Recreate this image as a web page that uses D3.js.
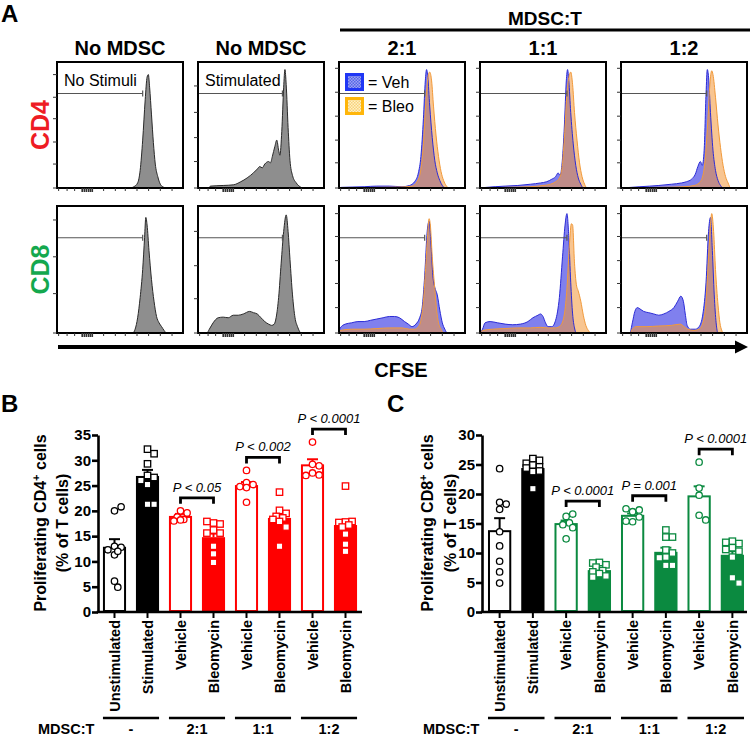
<!DOCTYPE html>
<html><head><meta charset="utf-8">
<script src="https://cdn.jsdelivr.net/npm/d3@7/dist/d3.min.js"></script>
<style>
body{margin:0;background:#fff}
svg{display:block;font-family:"Liberation Sans",Arial,Helvetica,sans-serif}
</style>
</head><body>
<svg id="fig" width="750" height="736"></svg>
<script>
// ---------------- DATA ----------------
// Panel A column headers
const colHeaders = ["No MDSC", "No MDSC", "2:1", "1:1", "1:2"];
const rowLabels = ["CD4", "CD8"];
const boxTexts = ["No Stimuli", "Stimulated"];
const legendLabels = ["= Veh", "= Bleo"];

// Histograms: [x % of CFSE axis, height % of box]
const cd4_noStim = [[0,0],[58,0],[61,1],[64,4],[66,14],[68,38],[70,70],[71.5,88],[72.5,90],[73.5,80],[75,58],[76.5,36],[78,19],[80,9],[82,3],[84,1],[86,0],[100,0]];
const cd4_stim = [[0,0],[8,0],[10,1.5],[20,2],[28,2.5],[34,5],[39,8],[44,12],[47,15],[49,17],[51,16],[53,19],[56,21],[57.5,20],[59,25],[61,33],[62.5,38],[64,30],[65,26],[66.5,45],[68,80],[69,94],[70,82],[71.5,48],[73,22],[75,10],[78,4],[81,1],[83,0],[100,0]];
const cd4_21_veh = [[0,0],[2,0.5],[20,1],[30,1.5],[40,1.5],[50,1],[56,2],[60,5],[63,12],[65,25],[67,55],[68.5,85],[69.5,94],[70.5,88],[72,65],[74,40],[76,22],[78,12],[80,6],[82,2],[84,0],[100,0]];
const cd4_21_bleo = [[0,0],[30,0.5],[50,0.8],[58,1.5],[62,5],[65,15],[67,35],[69,70],[71,90],[72,92],[73.5,85],[75,65],[77,42],[79,25],[81,13],[83,6],[85,2],[87,0],[100,0]];
const cd4_11_veh = [[0,0],[5,0.5],[20,1.5],[30,2],[40,3],[48,4],[53,5],[57,7],[60,9],[62,12],[63.5,10],[65,18],[67,50],[68.5,85],[69.5,94],[70.5,85],[72,60],[74,35],[76,18],[78,8],[80,3],[82,0],[100,0]];
const cd4_11_bleo = [[0,0],[20,0.5],[40,1],[50,2],[56,3],[60,5],[63,8],[65,15],[67,40],[69,75],[71,90],[72,92],[73.5,82],[75,60],[77,38],[79,20],[81,9],[83,3],[85,0],[100,0]];
const cd4_12_veh = [[0,0],[8,0.5],[15,1],[30,2],[40,3],[48,4],[52,5],[56,7],[59,11],[61,17],[63,21],[64.5,18],[66,30],[67.5,75],[68.5,94],[69.5,88],[71,60],[73,30],[75,14],[77,6],[79,2],[81,0],[100,0]];
const cd4_12_bleo = [[0,0],[30,0.5],[50,1],[58,2],[62,4],[65,10],[67,25],[69,55],[70.5,82],[72,93],[73,90],[75,72],[77,50],[79,32],[81,18],[83,9],[85,4],[87,0],[100,0]];

const cd8_noStim = [[0,0],[60,0],[62,3],[64,12],[66,28],[68,50],[69.5,75],[70.5,91],[71.5,85],[73,65],[75,42],[77,25],[79,13],[81,8],[83,5],[85,2],[87,0],[100,0]];
const cd8_stim = [[0,0],[7,0],[9,3],[12,8],[16,12],[20,12.5],[24,12],[28,14],[32,14],[36,15],[41,17],[44,16],[47,15],[50,12],[53,9],[56,7],[58.5,6],[60.5,7],[62,12],[64,28],[66,55],[68,80],[70,93],[71.5,80],[73,58],[75,30],[77,12],[79,5],[82,0],[100,0]];
const cd8_21_veh = [[0,0],[1,4],[5,7],[10,8],[15,9],[20,9],[25,10],[30,11],[35,12],[40,13],[44,13],[48,12],[52,9],[55,7],[58,5],[61,7],[64,12],[66,20],[68,45],[70,80],[71.5,88],[73,70],[74.5,45],[76,36],[78,30],[80,18],[82,8],[84,3],[86,0],[100,0]];
const cd8_21_bleo = [[0,0],[1,2],[10,3],[20,3],[30,3.5],[40,4],[50,4],[56,3],[60,3],[63,5],[65,10],[67,25],[69,55],[70.5,80],[71.5,90],[72.5,85],[74,60],[76,35],[77.5,18],[79,8],[81,3],[83,0],[100,0]];
const cd8_11_veh = [[0,0],[2,3],[4,8],[8,9],[14,8],[20,7],[26,6.5],[32,7],[38,9],[42,12],[46,14],[48,15],[50,13],[52,8],[54,5],[57,5],[60,10],[63,28],[65.5,60],[67.5,85],[69,94],[70.5,75],[72,40],[73.5,15],[75,4],[76.5,0],[100,0]];
const cd8_11_bleo = [[0,0],[2,2],[10,3],[20,3.5],[30,4],[40,4],[48,4.5],[54,4],[60,4],[64,6],[67,15],[69,35],[71,70],[72.5,86],[73.5,85],[75,55],[76.5,38],[78,33],[80,25],[82,14],[84,6],[86,2],[88,0],[100,0]];
const cd8_12_veh = [[0,0],[7,0],[9,8],[11,17],[13,20],[15,19],[18,17],[22,16],[26,15],[30,14],[34,15],[38,17],[42,20],[45,25],[47.5,29],[49.5,25],[51,15],[52.5,6],[55,3],[59,3],[62,5],[65,15],[67.5,40],[69.5,80],[71,91],[72.5,65],[74,30],[75.5,8],[77,0],[100,0]];
const cd8_12_bleo = [[0,0],[7,0],[9,3],[12,5],[20,5],[30,5.5],[40,6],[47,7],[50,5],[53,3],[58,2],[62,3],[65,8],[67.5,25],[69.5,60],[71,85],[72,94],[73.5,80],[75,50],[77,22],[78.5,8],[80,2],[81,0],[100,0]];

// Gate (end x %) per box, gate height %
const gateEnd = [68, 67, 68, 69, 68];
const gateLevel = 75;

// Panel B/C
const barCategories = ["Unstimulated","Stimulated","Vehicle","Bleomycin","Vehicle","Bleomycin","Vehicle","Bleomycin"];
const groupLabels = ["-", "2:1", "1:1", "1:2"];
const groupMembers = [[0,1],[2,3],[4,5],[6,7]];

const b_means = [12.7, 26.9, 18.8, 14.8, 24.9, 18.6, 29.0, 17.2];
const b_sem   = [1.7, 1.2, 0.6, 0.7, 0.8, 0.6, 1.2, 0.5];
const b_points = [
  [20.0, 20.8, 13.0, 12.8, 12.3, 11.3, 12.0, 6.1, 4.9],
  [32.2, 31.3, 29.3, 27.0, 26.6, 26.0, 25.2, 21.3, 21.3],
  [20.0, 19.6, 18.8, 18.3, 18.0, 18.2],
  [17.6, 17.4, 17.9, 16.2, 15.6, 15.6, 13.0, 11.5, 9.8],
  [28.0, 25.6, 25.2, 24.8, 24.6, 21.7],
  [23.7, 20.1, 19.5, 18.9, 18.6, 18.3, 17.9, 16.8, 13.0],
  [33.6, 29.2, 28.9, 27.5, 27.1, 27.0],
  [24.9, 17.8, 17.9, 17.7, 17.2, 16.8, 15.4, 13.4, 12.0]
];
const b_pvals = ["P < 0.05", "P < 0.002", "P < 0.0001"];
const b_yTicks = [0,5,10,15,20,25,30,35];

const c_means = [13.7, 24.4, 14.9, 7.1, 16.3, 10.2, 19.6, 9.7];
const c_sem   = [2.2, 0.6, 0.6, 0.4, 0.4, 0.7, 1.7, 0.6];
const c_points = [
  [24.3, 18.6, 18.3, 17.4, 13.6, 11.2, 8.6, 6.8, 4.9],
  [26.0, 25.7, 25.2, 24.9, 24.6, 24.4, 23.8, 23.9, 20.9],
  [16.2, 16.6, 15.1, 14.8, 14.3, 12.4],
  [8.4, 8.0, 8.3, 7.6, 7.0, 6.8, 6.5, 6.1, 5.9],
  [17.0, 17.3, 17.5, 16.1, 15.3, 15.4],
  [13.9, 12.7, 12.7, 10.5, 10.0, 9.3, 9.2, 7.9, 7.9],
  [25.4, 21.0, 19.8, 16.4, 15.6],
  [12.0, 11.6, 11.8, 10.9, 10.6, 10.3, 9.3, 5.8, 4.9]
];
const c_pvals = ["P < 0.0001", "P = 0.001", "P < 0.0001"];
const c_yTicks = [0,5,10,15,20,25,30];

// ---------------- DRAW ----------------
const svg = d3.select("#fig");
const FONT = '"Liberation Sans",Arial,Helvetica,sans-serif';

const defs = svg.append("defs");
function checker(id, c1, c2){
  const p = defs.append("pattern").attr("id", id).attr("width", 3).attr("height", 3).attr("patternUnits","userSpaceOnUse");
  p.append("rect").attr("width",3).attr("height",3).attr("fill",c1);
  p.append("rect").attr("width",1.5).attr("height",1.5).attr("fill",c2);
  p.append("rect").attr("x",1.5).attr("y",1.5).attr("width",1.5).attr("height",1.5).attr("fill",c2);
}
checker("pBlue", "#9aa4f4", "#5563e6");
checker("pOrange", "#fff0c4", "#f7d27a");

// Panel letters
svg.append("text").attr("x",1).attr("y",22).attr("font-size",24).attr("font-weight","bold").text("A");
svg.append("text").attr("x",1).attr("y",412).attr("font-size",24).attr("font-weight","bold").text("B");
svg.append("text").attr("x",387).attr("y",412).attr("font-size",24).attr("font-weight","bold").text("C");

// ---- Panel A ----
const colX = d3.scaleBand().domain(d3.range(5)).range([57, 747]).paddingInner(15/141).paddingOuter(0);
const bw = colX.bandwidth();
const rowsA = [
  {top: 62, bottom: 188, label: rowLabels[0], color: "#ee1c24",
   grey: [cd4_noStim, cd4_stim], veh: [cd4_21_veh, cd4_11_veh, cd4_12_veh], bleo: [cd4_21_bleo, cd4_11_bleo, cd4_12_bleo],
   yTicks: [[0,19,36.5,55,72,90],[0,21,40,60,81],[0,20,38,57,76,95],[0,20,38,57,76,95],[0,20,38,57,76,95]]},
  {top: 206, bottom: 333, label: rowLabels[1], color: "#14a84e",
   grey: [cd8_noStim, cd8_stim], veh: [cd8_21_veh, cd8_11_veh, cd8_12_veh], bleo: [cd8_21_bleo, cd8_11_bleo, cd8_12_bleo],
   yTicks: [[0,31,60,89],[0,27,53,80],[0,20,39,57,76,94],[0,20,39,57,76,94],[0,20,39,57,76,94]]}
];
const bottomTicks = [1.3,8,14,20,21.7,23.3,25,26.5,28,37,46.3,54.2,63.5,72.7,82,91.3];

// headers
svg.append("text").attr("x",545).attr("y",25).attr("text-anchor","middle").attr("font-size",19).attr("font-weight","bold").text("MDSC:T");
svg.append("line").attr("x1",340).attr("x2",750).attr("y1",30).attr("y2",30).attr("stroke","#000").attr("stroke-width",3);
colHeaders.forEach((h,i)=>{
  svg.append("text").attr("x", colX(i)+bw/2).attr("y",55).attr("text-anchor","middle")
    .attr("font-size",20).attr("font-weight","bold").text(h);
});

rowsA.forEach((row, ri)=>{
  svg.append("text").attr("transform",`translate(40,${(row.top+row.bottom)/2}) rotate(-90)`)
    .attr("text-anchor","middle").attr("dy","0.35em").attr("font-size",25).attr("font-weight","bold")
    .attr("fill",row.color).text(row.label);
  d3.range(5).forEach(ci=>{
    const left = colX(ci);
    const x = d3.scaleLinear().domain([0,100]).range([left, left+bw]);
    const y = d3.scaleLinear().domain([0,100]).range([row.bottom, row.top]);
    const g = svg.append("g");
    const area = d3.area().x(d=>x(d[0])).y0(row.bottom).y1(d=>y(d[1])).curve(d3.curveMonotoneX);
    const line = d3.line().x(d=>x(d[0])).y(d=>y(d[1])).curve(d3.curveMonotoneX);
    if(ci<2){
      g.append("path").attr("d", area(row.grey[ci])).attr("fill","#8e8e8e");
      g.append("path").attr("d", line(row.grey[ci])).attr("fill","none").attr("stroke","#2a2a2a").attr("stroke-width",1);
    } else {
      const v = row.veh[ci-2], b = row.bleo[ci-2];
      g.append("path").attr("d", area(v)).attr("fill","#8080ee");
      g.append("path").attr("d", area(b)).attr("fill","rgb(243,150,55)").attr("fill-opacity",0.55);
      g.append("path").attr("d", line(v)).attr("fill","none").attr("stroke","#2b2bd6").attr("stroke-width",1);
      g.append("path").attr("d", line(b)).attr("fill","none").attr("stroke","#f29a3a").attr("stroke-width",1);
    }
    // gate
    const gy = y(gateLevel), gx = x(gateEnd[ci]);
    g.append("line").attr("x1",left).attr("x2",gx).attr("y1",gy).attr("y2",gy).attr("stroke","#555").attr("stroke-width",1.2);
    g.append("line").attr("x1",gx).attr("x2",gx).attr("y1",gy-3).attr("y2",gy+3).attr("stroke","#555").attr("stroke-width",1.2);
    // box
    g.append("rect").attr("x",left).attr("y",row.top).attr("width",bw).attr("height",row.bottom-row.top)
      .attr("fill","none").attr("stroke","#000").attr("stroke-width",2);
    // ticks
    row.yTicks[ci].forEach(t=>{
      g.append("line").attr("x1",left-4).attr("x2",left).attr("y1",y(t)).attr("y2",y(t)).attr("stroke","#333").attr("stroke-width",1);
    });
    bottomTicks.forEach((t,k)=>{
      const major = (k>=3 && k<=8);
      g.append("line").attr("x1",x(t)).attr("x2",x(t)).attr("y1",row.bottom).attr("y2",row.bottom+(major?4:3))
        .attr("stroke","#333").attr("stroke-width",major?1.6:1);
    });
    if(ri===0 && ci<2){
      g.append("text").attr("x",left+7).attr("y",row.top+24).attr("font-size",16).text(boxTexts[ci]);
    }
    if(ri===0 && ci===2){
      [["pBlue","#1f36f5"],["pOrange","#ffb60a"]].forEach((p,k)=>{
        g.append("rect").attr("x",left+7.5).attr("y",row.top+12.5+k*24).attr("width",16).attr("height",15)
          .attr("fill",`url(#${p[0]})`).attr("stroke",p[1]).attr("stroke-width",3);
        g.append("text").attr("x",left+29).attr("y",row.top+26+k*24).attr("font-size",16).text(legendLabels[k]);
      });
    }
  });
});
// CFSE arrow
svg.append("line").attr("x1",58).attr("x2",738).attr("y1",347).attr("y2",347).attr("stroke","#000").attr("stroke-width",4);
svg.append("path").attr("d","M748,347 L735,340.5 L735,353.5 Z").attr("fill","#000");
svg.append("text").attr("x",401).attr("y",377).attr("text-anchor","middle").attr("font-size",20).attr("font-weight","bold").text("CFSE");

// ---- Panels B / C ----
function barPanel(cfg){
  const g = svg.append("g");
  const x = d3.scaleBand().domain(d3.range(barCategories.length)).range(cfg.xRange).paddingInner(0.3).paddingOuter(0.15);
  const y = d3.scaleLinear().domain([0, cfg.yMax]).range([612, cfg.yTop]);
  const bwid = x.bandwidth();
  const col = c => (c<2 ? "#000" : cfg.color);

  // bars
  cfg.means.forEach((m,i)=>{
    const filled = (i===1 || (i>=2 && i%2===1));
    const sw = filled ? 0 : 2;
    g.append("rect").attr("x", x(i)+sw/2).attr("y", y(m)).attr("width", bwid-sw).attr("height", y(0)-y(m)-sw/2)
      .attr("fill", filled ? col(i) : "#fff").attr("stroke", filled ? "none" : col(i)).attr("stroke-width", sw);
  });
  // error bars (upper)
  cfg.means.forEach((m,i)=>{
    const cx = x(i)+bwid/2, yt = y(m+cfg.sem[i]);
    g.append("line").attr("x1",cx).attr("x2",cx).attr("y1",y(m)).attr("y2",yt).attr("stroke",col(i)).attr("stroke-width",2);
    g.append("line").attr("x1",cx-5.5).attr("x2",cx+5.5).attr("y1",yt).attr("y2",yt).attr("stroke",col(i)).attr("stroke-width",2);
  });
  // points (simple beeswarm)
  const s = 6.6, maxOff = bwid/2 - 3.5;
  cfg.points.forEach((vals,i)=>{
    const cx = x(i)+bwid/2;
    const placed = [];
    const isSquare = (i===1 || (i>=2 && i%2===1));
    vals.forEach(v=>{
      const py = y(v);
      const cands = [0];
      for(let k=1;k*s*0.5<=maxOff;k++){ cands.push(k*s*0.5, -k*s*0.5); }
      let best = null, bestD = -1;
      for(const o of cands){
        const dmin = placed.length ? d3.min(placed, p=>Math.hypot(p[0]-o, p[1]-py)) : Infinity;
        if(dmin >= s){ best = o; break; }
        if(dmin > bestD){ bestD = dmin; best = o; }
      }
      placed.push([best, py]);
      if(isSquare){
        g.append("rect").attr("x",cx+best-3.2).attr("y",py-3.2).attr("width",6.4).attr("height",6.4)
          .attr("fill","#fff").attr("stroke",col(i)).attr("stroke-width",1.3);
      } else {
        g.append("circle").attr("cx",cx+best).attr("cy",py).attr("r",3.2)
          .attr("fill","#fff").attr("stroke",col(i)).attr("stroke-width",1.3);
      }
    });
  });
  // y axis
  const ya = g.append("g").attr("transform",`translate(${cfg.axisX},0)`)
    .call(d3.axisLeft(y).tickValues(cfg.yTicks).tickSize(6).tickSizeOuter(0).tickPadding(1));
  ya.select(".domain").attr("stroke-width",2.6);
  ya.selectAll(".tick line").attr("stroke-width",2.6);
  ya.selectAll(".tick text").attr("font-family",FONT).attr("font-size",15).attr("font-weight","bold").attr("fill","#000");
  // x axis
  g.append("line").attr("x1",cfg.axisX-1.3).attr("x2",cfg.xEnd).attr("y1",y(0)).attr("y2",y(0)).attr("stroke","#000").attr("stroke-width",2.6);
  const xa = g.append("g").attr("transform",`translate(0,${y(0)})`)
    .call(d3.axisBottom(x).tickSize(6).tickSizeOuter(0).tickFormat(i=>barCategories[i]));
  xa.select(".domain").remove();
  xa.selectAll(".tick line").attr("stroke-width",2);
  xa.selectAll(".tick text").attr("font-family",FONT).attr("font-size",14.5).attr("font-weight","bold").attr("fill","#000")
    .attr("transform","rotate(-90)").attr("text-anchor","end").attr("x",-8).attr("y",0).attr("dy","0.36em");
  // y label
  const yl = g.append("text").attr("transform",`translate(${cfg.labelX[0]},${cfg.labelY}) rotate(-90)`)
    .attr("text-anchor","middle").attr("dy","0.36em").attr("font-size",16).attr("font-weight","bold");
  yl.append("tspan").text(cfg.yLabel);
  yl.append("tspan").attr("baseline-shift","super").attr("font-size",11).text("+");
  yl.append("tspan").text(" cells");
  g.append("text").attr("transform",`translate(${cfg.labelX[1]},${cfg.labelY}) rotate(-90)`)
    .attr("text-anchor","middle").attr("dy","0.36em").attr("font-size",16).attr("font-weight","bold").text("(% of T cells)");
  // significance brackets
  [1,2,3].forEach((gi,k)=>{
    const [a,b] = groupMembers[gi];
    const mx = d3.max([...cfg.points[a], ...cfg.points[b]]);
    const by = y(mx) - 13;
    const x1 = x(a)+bwid/2, x2 = x(b)+bwid/2;
    g.append("path").attr("d",`M${x1},${by+6}V${by}H${x2}V${by+6}`).attr("fill","none").attr("stroke","#000").attr("stroke-width",2.8);
    g.append("text").attr("x",(x1+x2)/2).attr("y",by-6).attr("text-anchor","middle").attr("font-size",13)
      .attr("font-style","italic").text(cfg.pvals[k]);
  });
  // group lines
  groupMembers.forEach((m,gi)=>{
    const x1 = x(m[0]), x2 = x(m[m.length-1])+bwid;
    g.append("line").attr("x1",x1).attr("x2",x2).attr("y1",718).attr("y2",718).attr("stroke","#000").attr("stroke-width",2.6);
    g.append("text").attr("x",(x1+x2)/2).attr("y",734).attr("text-anchor","middle").attr("font-size",14.5).attr("font-weight","bold").text(groupLabels[gi]);
  });
  g.append("text").attr("x",cfg.mdscX).attr("y",734).attr("font-size",14.5).attr("font-weight","bold").text("MDSC:T");
}

barPanel({xRange:[98,362], axisX:98, xEnd:362, yMax:35, yTop:435, yTicks:b_yTicks, color:"#ff0000",
  means:b_means, sem:b_sem, points:b_points, pvals:b_pvals, yLabel:"Proliferating CD4", labelX:[40,62], labelY:523, mdscX:38});
barPanel({xRange:[483,749], axisX:482, xEnd:747, yMax:30, yTop:435, yTicks:c_yTicks, color:"#0b8a40",
  means:c_means, sem:c_sem, points:c_points, pvals:c_pvals, yLabel:"Proliferating CD8", labelX:[427,450], labelY:523, mdscX:423});
</script>
</body></html>
